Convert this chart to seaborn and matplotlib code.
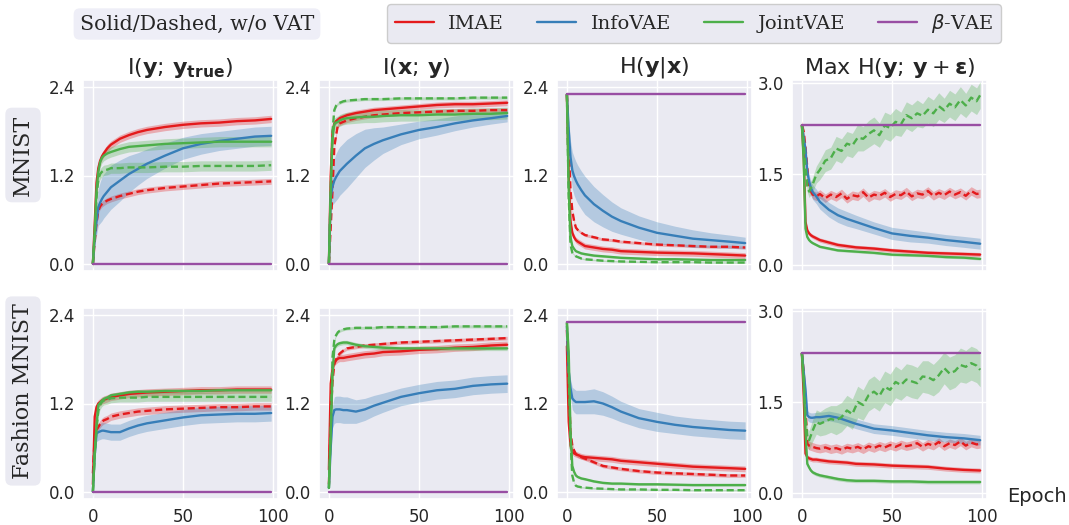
import numpy as np
import pandas as pd
import seaborn as sns
import matplotlib.pyplot as plt
from matplotlib.lines import Line2D

# ---------------------------------------------------------------- data
METHODS = ["IMAE", "InfoVAE", "JointVAE", "β-VAE"]
LEGEND_LABELS = ["IMAE", "InfoVAE", "JointVAE", r"$\beta$-VAE"]
COLORS = ["#E41A1C", "#377EB8", "#4DAF4A", "#984EA3"]
TITLES = [r"$\mathrm{I}(\mathbf{y};\,\mathbf{y}_{\mathbf{true}})$",
          r"$\mathrm{I}(\mathbf{x};\,\mathbf{y})$",
          r"$\mathrm{H}(\mathbf{y}|\mathbf{x})$",
          r"Max $\mathrm{H}(\mathbf{y};\,\mathbf{y}+\boldsymbol{\varepsilon})$"]
ROWS = ["MNIST", "Fashion MNIST"]
YTICKS = [[0.0, 1.2, 2.4], [0.0, 1.2, 2.4], [0.0, 1.2, 2.4], [0.0, 1.5, 3.0]]
XTICKS = [0, 50, 100]
LN10 = 2.303

# epoch grids
EP = [0, 1, 2, 3, 4, 5, 6, 8, 10, 15, 20, 25, 30, 40, 50, 60, 70, 80, 90, 99]
EP_N = [0, 1, 2, 3, 4, 6, 8, 10, 13, 16, 19, 22, 25, 28, 31, 34, 37, 40, 43,
        46, 49, 52, 55, 58, 61, 64, 67, 70, 73, 76, 79, 82, 85, 88, 91, 94, 97, 99]
FLAT0 = [0.0] * len(EP)
FLATH = [LN10] * len(EP)

# --- MNIST, I(y; y_true)
mn_iyt_imae = [0, 0.55, 1.10, 1.30, 1.40, 1.46, 1.50, 1.57, 1.62, 1.70, 1.75, 1.79, 1.82, 1.86, 1.89, 1.91, 1.92, 1.94, 1.95, 1.97]
mn_iyt_imae_d = [0, 0.30, 0.55, 0.72, 0.78, 0.81, 0.83, 0.86, 0.88, 0.92, 0.95, 0.98, 1.00, 1.03, 1.05, 1.07, 1.09, 1.10, 1.11, 1.12]
mn_iyt_info = [0, 0.35, 0.58, 0.77, 0.83, 0.88, 0.92, 0.98, 1.04, 1.13, 1.22, 1.29, 1.36, 1.47, 1.57, 1.63, 1.67, 1.70, 1.73, 1.74]
mn_iyt_info_w = [0, .10, .20, .25, .28, .30, .30, .30, .30, .28, .25, .22, .20, .17, .15, .14, .13, .13, .13, .13]
mn_iyt_joint = [0, 0.45, 1.00, 1.25, 1.38, 1.44, 1.47, 1.50, 1.52, 1.56, 1.59, 1.60, 1.61, 1.63, 1.64, 1.65, 1.66, 1.66, 1.66, 1.66]
mn_iyt_joint_d = [0, 0.40, 0.90, 1.15, 1.22, 1.25, 1.27, 1.28, 1.30, 1.30, 1.31, 1.31, 1.31, 1.32, 1.32, 1.33, 1.33, 1.33, 1.33, 1.34]

# --- MNIST, I(x; y)
mn_ixy_imae = [0, 1.20, 1.80, 1.91, 1.94, 1.96, 1.98, 2.00, 2.02, 2.05, 2.07, 2.09, 2.10, 2.12, 2.14, 2.16, 2.17, 2.17, 2.18, 2.19]
mn_ixy_imae_d = [0, 0.50, 1.00, 1.59, 1.75, 1.89, 1.91, 1.93, 1.95, 1.98, 2.00, 2.02, 2.03, 2.05, 2.06, 2.07, 2.08, 2.08, 2.09, 2.09]
mn_ixy_info = [0, 0.90, 1.05, 1.13, 1.18, 1.22, 1.26, 1.31, 1.36, 1.47, 1.57, 1.63, 1.68, 1.76, 1.82, 1.86, 1.91, 1.95, 1.98, 2.01]
mn_ixy_info_w = [0, .15, .25, .30, .32, .33, .33, .33, .33, .30, .26, .22, .18, .14, .12, .11, .10, .09, .08, .08]
mn_ixy_joint = [0, 1.00, 1.70, 1.90, 1.92, 1.93, 1.95, 1.97, 1.98, 1.99, 2.00, 2.00, 2.01, 2.02, 2.02, 2.03, 2.03, 2.04, 2.04, 2.05]
mn_ixy_joint_d = [0, 1.00, 1.80, 2.09, 2.15, 2.18, 2.19, 2.21, 2.22, 2.23, 2.24, 2.24, 2.24, 2.25, 2.25, 2.25, 2.25, 2.26, 2.26, 2.26]

# --- MNIST, H(y | x)
mn_hyx_imae = [LN10, 1.20, 0.58, 0.42, 0.36, 0.32, 0.30, 0.27, 0.24, 0.22, 0.20, 0.19, 0.17, 0.16, 0.15, 0.145, 0.14, 0.13, 0.12, 0.11]
mn_hyx_imae_d = [LN10, 1.60, 1.00, 0.72, 0.58, 0.49, 0.46, 0.42, 0.39, 0.36, 0.33, 0.32, 0.30, 0.28, 0.26, 0.25, 0.24, 0.23, 0.23, 0.22]
mn_hyx_info = [LN10, 1.82, 1.45, 1.27, 1.19, 1.13, 1.08, 1.00, 0.93, 0.81, 0.72, 0.64, 0.58, 0.49, 0.42, 0.38, 0.34, 0.32, 0.30, 0.28]
mn_hyx_info_w = [0, .15, .22, .25, .26, .26, .26, .26, .26, .24, .22, .20, .18, .16, .15, .13, .12, .10, .09, .08]
mn_hyx_joint = [LN10, 1.00, 0.36, 0.24, 0.20, 0.17, 0.16, 0.14, 0.13, 0.11, 0.10, 0.09, 0.08, 0.07, 0.06, 0.06, 0.055, 0.05, 0.05, 0.05]
mn_hyx_joint_d = [LN10, 0.90, 0.26, 0.15, 0.12, 0.10, 0.09, 0.07, 0.06, 0.05, 0.04, 0.035, 0.03, 0.025, 0.02, 0.02, 0.02, 0.015, 0.015, 0.015]

# --- MNIST, max H(y; y + eps)
mn_mh_imae = [LN10, 1.80, 0.71, 0.57, 0.52, 0.49, 0.47, 0.44, 0.41, 0.37, 0.33, 0.31, 0.29, 0.27, 0.24, 0.22, 0.20, 0.19, 0.18, 0.17]
mn_mh_imae_d = [LN10, 2.20, 1.93, 1.60, 1.27, 1.16, 1.13, 1.17, 1.10, 1.16, 1.12, 1.18, 1.09, 1.15, 1.13, 1.20, 1.11, 1.16, 1.14,
                1.19, 1.12, 1.17, 1.15, 1.21, 1.13, 1.18, 1.16, 1.22, 1.14, 1.19, 1.15, 1.21, 1.16, 1.20, 1.14, 1.22, 1.17, 1.18]
mn_mh_info = [LN10, 2.10, 1.90, 1.54, 1.38, 1.27, 1.20, 1.13, 1.04, 0.91, 0.82, 0.76, 0.71, 0.61, 0.52, 0.48, 0.45, 0.41, 0.38, 0.35]
mn_mh_info_w = [0, .05, .08, .10, .10, .12, .12, .12, .12, .12, .12, .12, .11, .10, .10, .10, .09, .09, .09, .09]
mn_mh_joint = [LN10, 1.70, 0.60, 0.46, 0.41, 0.38, 0.36, 0.33, 0.30, 0.27, 0.24, 0.23, 0.22, 0.20, 0.17, 0.16, 0.15, 0.13, 0.12, 0.10]
mn_mh_joint_d = [LN10, 2.00, 1.60, 1.30, 1.21, 1.33, 1.49, 1.57, 1.72, 1.76, 1.92, 1.88, 2.00, 1.97, 2.10, 2.08, 2.16, 2.22, 2.14,
                 2.30, 2.26, 2.36, 2.32, 2.47, 2.42, 2.50, 2.46, 2.56, 2.50, 2.62, 2.55, 2.66, 2.60, 2.72, 2.63, 2.76, 2.70, 2.80]
mn_mh_joint_d_w = [0, .04, .08, .10, .10, .12, .14, .16, .18, .18, .20, .20, .20, .20, .22, .20, .22, .22, .20,
                   .22, .22, .22, .20, .22, .22, .22, .20, .22, .22, .22, .20, .22, .22, .22, .20, .22, .22, .22]

# --- Fashion MNIST, I(y; y_true)
fm_iyt_imae = [0.10, 1.02, 1.15, 1.20, 1.22, 1.24, 1.25, 1.27, 1.29, 1.31, 1.33, 1.34, 1.35, 1.36, 1.37, 1.38, 1.38, 1.39, 1.39, 1.39]
fm_iyt_imae_d = [0.25, 0.75, 0.84, 0.88, 0.92, 0.95, 0.97, 0.99, 1.02, 1.05, 1.07, 1.09, 1.10, 1.12, 1.13, 1.14, 1.15, 1.15, 1.16, 1.16]
fm_iyt_info = [0, 0.50, 0.79, 0.81, 0.82, 0.83, 0.83, 0.82, 0.81, 0.81, 0.86, 0.90, 0.93, 0.97, 1.01, 1.04, 1.05, 1.06, 1.06, 1.07]
fm_iyt_joint = [0, 0.50, 0.90, 1.18, 1.21, 1.24, 1.26, 1.28, 1.31, 1.33, 1.35, 1.36, 1.36, 1.37, 1.37, 1.37, 1.38, 1.38, 1.38, 1.38]
fm_iyt_joint_d = [0, 0.50, 0.85, 1.10, 1.18, 1.22, 1.24, 1.25, 1.27, 1.28, 1.28, 1.28, 1.29, 1.29, 1.29, 1.29, 1.29, 1.29, 1.29, 1.29]

# --- Fashion MNIST, I(x; y)
fm_ixy_imae = [0.30, 1.47, 1.67, 1.76, 1.79, 1.81, 1.82, 1.82, 1.83, 1.85, 1.87, 1.88, 1.90, 1.91, 1.93, 1.94, 1.96, 1.97, 1.99, 2.00]
fm_ixy_imae_d = [0.10, 1.00, 1.50, 1.74, 1.80, 1.85, 1.88, 1.92, 1.95, 1.97, 1.99, 2.00, 2.01, 2.03, 2.04, 2.05, 2.06, 2.07, 2.08, 2.09]
fm_ixy_info = [0.05, 0.60, 1.02, 1.11, 1.12, 1.12, 1.12, 1.11, 1.11, 1.09, 1.12, 1.17, 1.21, 1.29, 1.34, 1.38, 1.40, 1.44, 1.46, 1.47]
fm_ixy_info_w = [0, .10, .15, .18, .18, .18, .18, .18, .18, .16, .15, .14, .13, .12, .12, .12, .12, .12, .12, .12]
fm_ixy_joint = [0.05, 0.80, 1.60, 1.95, 1.99, 2.01, 2.02, 2.03, 2.03, 2.00, 1.98, 1.97, 1.96, 1.95, 1.95, 1.95, 1.95, 1.95, 1.95, 1.95]
fm_ixy_joint_d = [0.05, 0.80, 1.83, 2.06, 2.13, 2.17, 2.19, 2.21, 2.22, 2.23, 2.23, 2.23, 2.24, 2.24, 2.24, 2.24, 2.25, 2.25, 2.25, 2.25]

# --- Fashion MNIST, H(y | x)
fm_hyx_imae = [1.98, 0.95, 0.63, 0.54, 0.52, 0.51, 0.50, 0.48, 0.47, 0.46, 0.45, 0.44, 0.42, 0.40, 0.38, 0.36, 0.34, 0.33, 0.32, 0.31]
fm_hyx_imae_d = [2.20, 1.50, 0.81, 0.63, 0.56, 0.51, 0.49, 0.47, 0.45, 0.40, 0.35, 0.33, 0.31, 0.28, 0.26, 0.25, 0.24, 0.23, 0.22, 0.22]
fm_hyx_info = [2.25, 1.64, 1.41, 1.27, 1.24, 1.22, 1.22, 1.22, 1.22, 1.23, 1.20, 1.15, 1.09, 1.00, 0.95, 0.91, 0.88, 0.86, 0.84, 0.83]
fm_hyx_info_w = [0, .08, .12, .15, .16, .16, .16, .16, .16, .17, .16, .15, .14, .13, .13, .12, .12, .12, .12, .12]
fm_hyx_joint = [2.30, 1.90, 0.81, 0.35, 0.27, 0.22, 0.20, 0.18, 0.17, 0.14, 0.12, 0.11, 0.11, 0.10, 0.10, 0.095, 0.09, 0.09, 0.09, 0.09]
fm_hyx_joint_d = [2.30, 1.60, 0.70, 0.22, 0.12, 0.08, 0.07, 0.06, 0.055, 0.045, 0.04, 0.035, 0.03, 0.03, 0.025, 0.025, 0.02, 0.02, 0.02, 0.02]

# --- Fashion MNIST, max H(y; y + eps)
fm_mh_imae = [LN10, 1.60, 0.65, 0.59, 0.57, 0.56, 0.55, 0.55, 0.54, 0.52, 0.51, 0.50, 0.48, 0.47, 0.45, 0.44, 0.43, 0.40, 0.38, 0.37]
fm_mh_imae_d = [LN10, 2.00, 1.40, 0.81, 0.78, 0.76, 0.74, 0.73, 0.75, 0.72, 0.74, 0.71, 0.75, 0.73, 0.76, 0.72, 0.77, 0.74, 0.78,
                0.75, 0.79, 0.76, 0.80, 0.77, 0.79, 0.82, 0.76, 0.81, 0.78, 0.84, 0.77, 0.82, 0.79, 0.85, 0.78, 0.83, 0.80, 0.81]
fm_mh_info = [LN10, 2.00, 1.70, 1.28, 1.25, 1.24, 1.24, 1.25, 1.25, 1.27, 1.24, 1.19, 1.14, 1.06, 1.03, 0.99, 0.95, 0.92, 0.90, 0.87]
fm_mh_joint = [LN10, 1.80, 1.00, 0.48, 0.42, 0.37, 0.34, 0.31, 0.29, 0.26, 0.23, 0.21, 0.20, 0.20, 0.19, 0.19, 0.18, 0.18, 0.18, 0.18]
fm_mh_joint_d = [LN10, 1.90, 1.25, 0.92, 0.87, 1.03, 1.17, 1.14, 1.18, 1.22, 1.20, 1.25, 1.36, 1.30, 1.50, 1.45, 1.61, 1.67, 1.60,
                 1.75, 1.70, 1.83, 1.78, 1.87, 1.84, 1.81, 1.92, 1.91, 1.86, 1.94, 2.06, 1.97, 2.01, 2.11, 2.08, 2.14, 2.10, 2.03]
fm_mh_joint_d_w = [0, .05, .10, .14, .16, .18, .20, .20, .22, .22, .24, .24, .25, .25, .26, .25, .26, .26, .25,
                   .26, .26, .26, .25, .26, .27, .26, .26, .27, .26, .27, .26, .27, .27, .28, .27, .28, .28, .28]

# (method, variant, epochs, mean, band half-width) for every panel
PANELS = [
    [  # MNIST
        [("IMAE", "solid", EP, mn_iyt_imae, 0.05), ("IMAE", "dashed", EP, mn_iyt_imae_d, 0.04),
         ("InfoVAE", "solid", EP, mn_iyt_info, mn_iyt_info_w),
         ("JointVAE", "solid", EP, mn_iyt_joint, 0.07), ("JointVAE", "dashed", EP, mn_iyt_joint_d, 0.07),
         ("β-VAE", "solid", EP, FLAT0, 0.005)],
        [("IMAE", "solid", EP, mn_ixy_imae, 0.04), ("IMAE", "dashed", EP, mn_ixy_imae_d, 0.03),
         ("InfoVAE", "solid", EP, mn_ixy_info, mn_ixy_info_w),
         ("JointVAE", "solid", EP, mn_ixy_joint, 0.08), ("JointVAE", "dashed", EP, mn_ixy_joint_d, 0.02),
         ("β-VAE", "solid", EP, FLAT0, 0.005)],
        [("IMAE", "solid", EP, mn_hyx_imae, 0.04), ("IMAE", "dashed", EP, mn_hyx_imae_d, 0.02),
         ("InfoVAE", "solid", EP, mn_hyx_info, mn_hyx_info_w),
         ("JointVAE", "solid", EP, mn_hyx_joint, 0.015), ("JointVAE", "dashed", EP, mn_hyx_joint_d, 0.01),
         ("β-VAE", "solid", EP, FLATH, 0.005)],
        [("IMAE", "solid", EP, mn_mh_imae, 0.035), ("IMAE", "dashed", EP_N, mn_mh_imae_d, 0.07),
         ("InfoVAE", "solid", EP, mn_mh_info, mn_mh_info_w),
         ("JointVAE", "solid", EP, mn_mh_joint, 0.02), ("JointVAE", "dashed", EP_N, mn_mh_joint_d, mn_mh_joint_d_w),
         ("β-VAE", "solid", EP, FLATH, 0.005)],
    ],
    [  # Fashion MNIST
        [("IMAE", "solid", EP, fm_iyt_imae, 0.05), ("IMAE", "dashed", EP, fm_iyt_imae_d, 0.05),
         ("InfoVAE", "solid", EP, fm_iyt_info, 0.11),
         ("JointVAE", "solid", EP, fm_iyt_joint, 0.03), ("JointVAE", "dashed", EP, fm_iyt_joint_d, 0.06),
         ("β-VAE", "solid", EP, FLAT0, 0.005)],
        [("IMAE", "solid", EP, fm_ixy_imae, 0.05), ("IMAE", "dashed", EP, fm_ixy_imae_d, 0.025),
         ("InfoVAE", "solid", EP, fm_ixy_info, fm_ixy_info_w),
         ("JointVAE", "solid", EP, fm_ixy_joint, 0.03), ("JointVAE", "dashed", EP, fm_ixy_joint_d, 0.02),
         ("β-VAE", "solid", EP, FLAT0, 0.005)],
        [("IMAE", "solid", EP, fm_hyx_imae, 0.04), ("IMAE", "dashed", EP, fm_hyx_imae_d, 0.025),
         ("InfoVAE", "solid", EP, fm_hyx_info, fm_hyx_info_w),
         ("JointVAE", "solid", EP, fm_hyx_joint, 0.015), ("JointVAE", "dashed", EP, fm_hyx_joint_d, 0.01),
         ("β-VAE", "solid", EP, FLATH, 0.005)],
        [("IMAE", "solid", EP, fm_mh_imae, 0.04), ("IMAE", "dashed", EP_N, fm_mh_imae_d, 0.07),
         ("InfoVAE", "solid", EP, fm_mh_info, 0.08),
         ("JointVAE", "solid", EP, fm_mh_joint, 0.03), ("JointVAE", "dashed", EP_N, fm_mh_joint_d, fm_mh_joint_d_w),
         ("β-VAE", "solid", EP, FLATH, 0.005)],
    ],
]
YLIMS = [(-0.1, 2.5), (-0.1, 2.5), (-0.1, 2.5), (-0.1, 3.05)]


def long_frame(series):
    """Three rows per epoch (mean - w, mean, mean + w): the mean is the
    estimate and the min/max interval becomes the shaded band."""
    rows = []
    for method, variant, epochs, mean, half in series:
        half = np.broadcast_to(np.asarray(half, dtype=float), (len(mean),))
        for e, m, h in zip(epochs, mean, half, strict=True):
            for v in (m - h, m, m + h):
                rows.append((e, v, method, variant))
    return pd.DataFrame(rows, columns=["epoch", "value", "method", "variant"])


# ---------------------------------------------------------------- style
sns.set_theme(style="darkgrid")
plt.rcParams.update({
    "xtick.labelsize": 12,
    "ytick.labelsize": 12,
    "axes.titlesize": 16,
    "mathtext.fontset": "dejavusans",
})
SERIF = dict(family=["DejaVu Serif"])

fig = plt.figure(figsize=(10.69, 5.25), dpi=100)
W, H = 1069, 525
col_left = [83, 319, 557, 792]
col_w = 195
row_top = [80, 308]
row_h = 191

palette = dict(zip(METHODS, COLORS))
for r in range(2):
    for c in range(4):
        ax = fig.add_axes([col_left[c] / W, 1 - (row_top[r] + row_h) / H, col_w / W, row_h / H])
        df = long_frame(PANELS[r][c])
        sns.lineplot(data=df, x="epoch", y="value", hue="method", style="variant",
                     hue_order=METHODS, style_order=["solid", "dashed"], palette=palette,
                     dashes={"solid": "", "dashed": (3.0, 1.6)},
                     estimator="mean", errorbar=("pi", 100),
                     err_kws={"alpha": 0.3, "linewidth": 0},
                     linewidth=1.7, legend=False, ax=ax)
        ax.set_xlim(-5.5, 102.8)
        ax.set_ylim(*YLIMS[c])
        ax.set_yticks(YTICKS[c])
        ax.set_yticklabels([f"{t:.1f}" for t in YTICKS[c]])
        ax.set_xticks(XTICKS)
        ax.set_xlabel("")
        ax.set_ylabel("")
        ax.tick_params(axis="y", length=0, pad=6)
        ax.tick_params(axis="x", length=0, pad=6.5)
        if r == 0:
            ax.set_xticklabels([])
            ax.set_title(TITLES[c], pad=2)

# row labels
label_box = dict(boxstyle="round,pad=0.3", fc="#EAEAF2", ec="none")
fig.text(23 / W, 1 - 155 / H, ROWS[0], rotation=90, ha="center", va="center",
         fontsize=16, bbox=label_box, **SERIF)
fig.text(23 / W, 1 - 391 / H, ROWS[1], rotation=90, ha="center", va="center",
         fontsize=16, bbox=label_box, **SERIF)

# caption box and legend
fig.text(197 / W, 1 - 24 / H, "Solid/Dashed, w/o VAT", ha="center", va="center",
         fontsize=14.8, bbox=dict(boxstyle="round,pad=0.3", fc="#EEEEF7", ec="none"), **SERIF)
handles = [Line2D([], [], color=col, lw=1.7) for col in COLORS]
leg = fig.legend(handles, LEGEND_LABELS, ncol=4, loc="center",
                 bbox_to_anchor=(694 / W, 1 - 23.5 / H), frameon=True,
                 prop=dict(size=14, **SERIF), handlelength=2.0, handletextpad=0.75,
                 columnspacing=1.7, borderpad=0.4)
leg.get_frame().set_facecolor("#EAEAF2")
leg.get_frame().set_edgecolor("#CCCCCC")
leg.get_frame().set_alpha(1)

fig.text(1037 / W, 1 - 497 / H, "Epoch", ha="center", va="center", fontsize=14)

fig.savefig("out.png", dpi=100)
